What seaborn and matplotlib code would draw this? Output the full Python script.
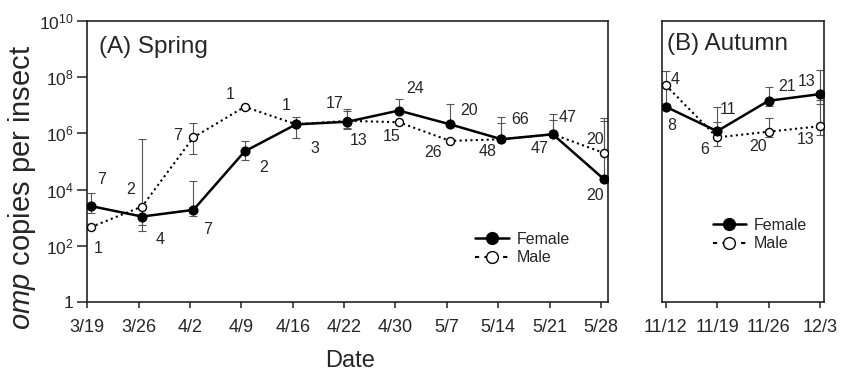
import numpy as np
import matplotlib
matplotlib.use("Agg")
import matplotlib.pyplot as plt
import seaborn as sns
from matplotlib.lines import Line2D
from matplotlib.ticker import NullLocator

# ---------------- data ----------------
spring_dates = ['3/19', '3/26', '4/2', '4/9', '4/16', '4/22', '4/30', '5/7', '5/14', '5/21', '5/28']
female_spring = [2.6e3, 1.1e3, 1.9e3, 2.3e5, 2.1e6, 2.6e6, 6.5e6, 2.1e6, 6.2e5, 9.3e5, 2.3e4]
female_spring_hi = [7.4e3, 2.2e3, 2.1e4, 5.5e5, 3.9e6, 6.3e6, 1.66e7, 1.1e7, 3.9e6, 4.8e6, 3.6e6]
female_spring_lo = [1.5e3, 3.4e2, 1.15e3, 1.1e5, 7.1e5, 1.55e6, 6.5e6, 2.1e6, 6.2e5, 9.3e5, 2.3e4]
male_spring = [4.6e2, 2.5e3, 7.2e5, 8.9e6, 2.1e6, 2.8e6, 2.5e6, 5.4e5, 6.2e5, 9.3e5, 2.0e5]
male_spring_hi = [4.6e2, 6.2e5, 2.3e6, 8.9e6, 2.1e6, 7.4e6, 2.5e6, 5.4e5, 2.4e6, 3.0e6, 2.75e6]
male_spring_lo = [4.6e2, 5.4e2, 1.9e5, 8.9e6, 2.1e6, 1.45e6, 2.5e6, 5.4e5, 6.2e5, 9.3e5, 2.0e5]
female_n_spring = [7, 4, 7, 2, 3, 13, 24, 20, 66, 47, 20]
male_n_spring = [1, 2, 7, 1, 1, 17, 15, 26, 48, 47, 20]

autumn_dates = ['11/12', '11/19', '11/26', '12/3']
female_autumn = [8.9e6, 1.2e6, 1.45e7, 2.5e7]
female_autumn_hi = [8.9e6, 8.5e6, 4.6e7, 1.8e8]
female_autumn_lo = [8.9e6, 1.2e6, 9.8e6, 1.07e7]
male_autumn = [5.2e7, 7.2e5, 1.15e6, 1.8e6]
male_autumn_hi = [1.6e8, 2.6e6, 3.6e6, 1.6e7]
male_autumn_lo = [9.5e6, 3.5e5, 7.6e5, 8.7e5]
female_n_autumn = [8, 11, 21, 13]
male_n_autumn = [4, 6, 20, 13]

ytick_values = [1, 1e2, 1e4, 1e6, 1e8, 1e10]
ytick_labels = [r'$1\ \ \ $', r'$10^{2}$', r'$10^{4}$', r'$10^{6}$', r'$10^{8}$', r'$10^{10}$']

# label offsets in pixels (dx right, dy down)
female_spring_off = [(11, -27), (18, 23), (14, 20), (19, 16), (19, 24), (11, 19),
                     (16, -22), (19, -14), (19, -20), (15, -17), (-9, 16)]
male_spring_off = [(7, 21), (-11, -17), (-16, -2), (-15, -12), (-10, -19), (-13, -17),
                   (-7, 14), (-17, 12), (-14, 12), (-13, 14), (-9, -14)]
female_autumn_off = [(6, 19), (11, -22), (19, -14), (-13, -13)]
male_autumn_off = [(9, -6), (-12, 12), (-10, 15), (-14, 13)]

# ---------------- style ----------------
sns.set_style("ticks")
plt.rcParams['font.family'] = ['Liberation Sans', 'DejaVu Sans']
plt.rcParams['mathtext.fontset'] = 'custom'
plt.rcParams['mathtext.rm'] = 'Liberation Sans'
plt.rcParams['mathtext.it'] = 'Liberation Sans:italic'
plt.rcParams['mathtext.bf'] = 'Liberation Sans:bold'
plt.rcParams['axes.linewidth'] = 1.2
plt.rcParams['axes.edgecolor'] = '#222222'

W, H = 843, 379
fig = plt.figure(figsize=(W / 100, H / 100), dpi=100)
ax1 = fig.add_axes([87.3 / W, 77 / H, 521 / W, 281 / H])
ax2 = fig.add_axes([662.3 / W, 77 / H, 162 / W, 281 / H])


def draw_panel(ax, dates, fem, fem_lo, fem_hi, mal, mal_lo, mal_hi, fn, mn, foff, moff):
    x = np.arange(len(dates))
    fem = np.asarray(fem); mal = np.asarray(mal)
    for y, lo, hi in ((fem, fem_lo, fem_hi), (mal, mal_lo, mal_hi)):
        yerr = np.vstack([y - np.asarray(lo), np.asarray(hi) - y])
        ax.errorbar(x, y, yerr=yerr, fmt='none', ecolor='#555555', elinewidth=0.8,
                    capsize=3, capthick=0.8, zorder=2)
    sns.lineplot(x=x, y=fem, ax=ax, color='black', linewidth=1.8, linestyle='-',
                 marker='o', markersize=6.3, markerfacecolor='black',
                 markeredgecolor='black', markeredgewidth=1, zorder=4, legend=False)
    sns.lineplot(x=x, y=mal, ax=ax, color='black', linewidth=1.5, linestyle=(0, (1, 1.6)),
                 marker='o', markersize=5.8, markerfacecolor='white',
                 markeredgecolor='black', markeredgewidth=1, zorder=3, legend=False)
    for i in range(len(dates)):
        ax.annotate(str(fn[i]), (x[i], fem[i]), xytext=(foff[i][0], -foff[i][1]),
                    textcoords='offset pixels', ha='center', va='center', fontsize=11.5)
        ax.annotate(str(mn[i]), (x[i], mal[i]), xytext=(moff[i][0], -moff[i][1]),
                    textcoords='offset pixels', ha='center', va='center', fontsize=11.5)
    ax.set_yscale('log')
    ax.set_ylim(1, 1e10)
    ax.yaxis.set_minor_locator(NullLocator())
    ax.set_xlabel('')
    ax.set_ylabel('')
    for s in ax.spines.values():
        s.set_visible(True)
        s.set_linewidth(1.2)
        s.set_color('#222222')
    return x


x1 = draw_panel(ax1, spring_dates, female_spring, female_spring_lo, female_spring_hi,
                male_spring, male_spring_lo, male_spring_hi, female_n_spring, male_n_spring,
                female_spring_off, male_spring_off)
ax1.set_xticks(x1 - 0.065)
ax1.set_xticklabels(spring_dates)
ax1.set_xlim(-0.066, len(spring_dates) - 1 + 0.08)
ax1.set_yticks(ytick_values)
ax1.set_yticklabels(ytick_labels)
ax1.tick_params(axis='y', direction='out', length=7, width=1.1, pad=3, labelsize=12.5, color='#222222')
ax1.tick_params(axis='x', direction='out', length=4, width=1.1, pad=8.5, labelsize=13, color='#222222')
ax1.text(0.023, 0.885, '(A) Spring', transform=ax1.transAxes, fontsize=17.5, va='baseline', ha='left')
ax1.set_ylabel(r'$\it{omp}$ copies per insect', fontsize=21)
ax1.yaxis.set_label_coords(-0.094, 0.406)

x2 = draw_panel(ax2, autumn_dates, female_autumn, female_autumn_lo, female_autumn_hi,
                male_autumn, male_autumn_lo, male_autumn_hi, female_n_autumn, male_n_autumn,
                female_autumn_off, male_autumn_off)
ax2.set_xticks(x2)
ax2.set_xticklabels(autumn_dates)
ax2.set_xlim(-0.066, len(autumn_dates) - 1 + 0.084)
ax2.tick_params(axis='y', left=False, labelleft=False)
ax2.tick_params(axis='x', direction='out', length=4, width=1.1, pad=8.5, labelsize=13, color='#222222')
ax2.text(0.03, 0.897, '(B) Autumn', transform=ax2.transAxes, fontsize=17.5, va='baseline', ha='left')

handles = [
    Line2D([], [], color='black', linewidth=1.8, marker='o', markersize=8.5,
           markerfacecolor='black', markeredgecolor='black'),
    Line2D([], [], color='black', linewidth=1.5, linestyle=(0, (2, 2.5)), marker='o', markersize=8.5,
           markerfacecolor='white', markeredgecolor='black'),
]
for ax, anchor in ((ax1, (0.745, 0.19)), (ax2, (0.31, 0.24))):
    ax.legend(handles, ['Female', 'Male'], loc='center left', bbox_to_anchor=anchor,
              frameon=False, fontsize=11.5, handlelength=2.1, handletextpad=0.5,
              labelspacing=0.2, borderaxespad=0, borderpad=0)

fig.text(350 / W, (H - 367) / H, 'Date', ha='center', va='baseline', fontsize=17)

fig.savefig('out.png', dpi=100)
